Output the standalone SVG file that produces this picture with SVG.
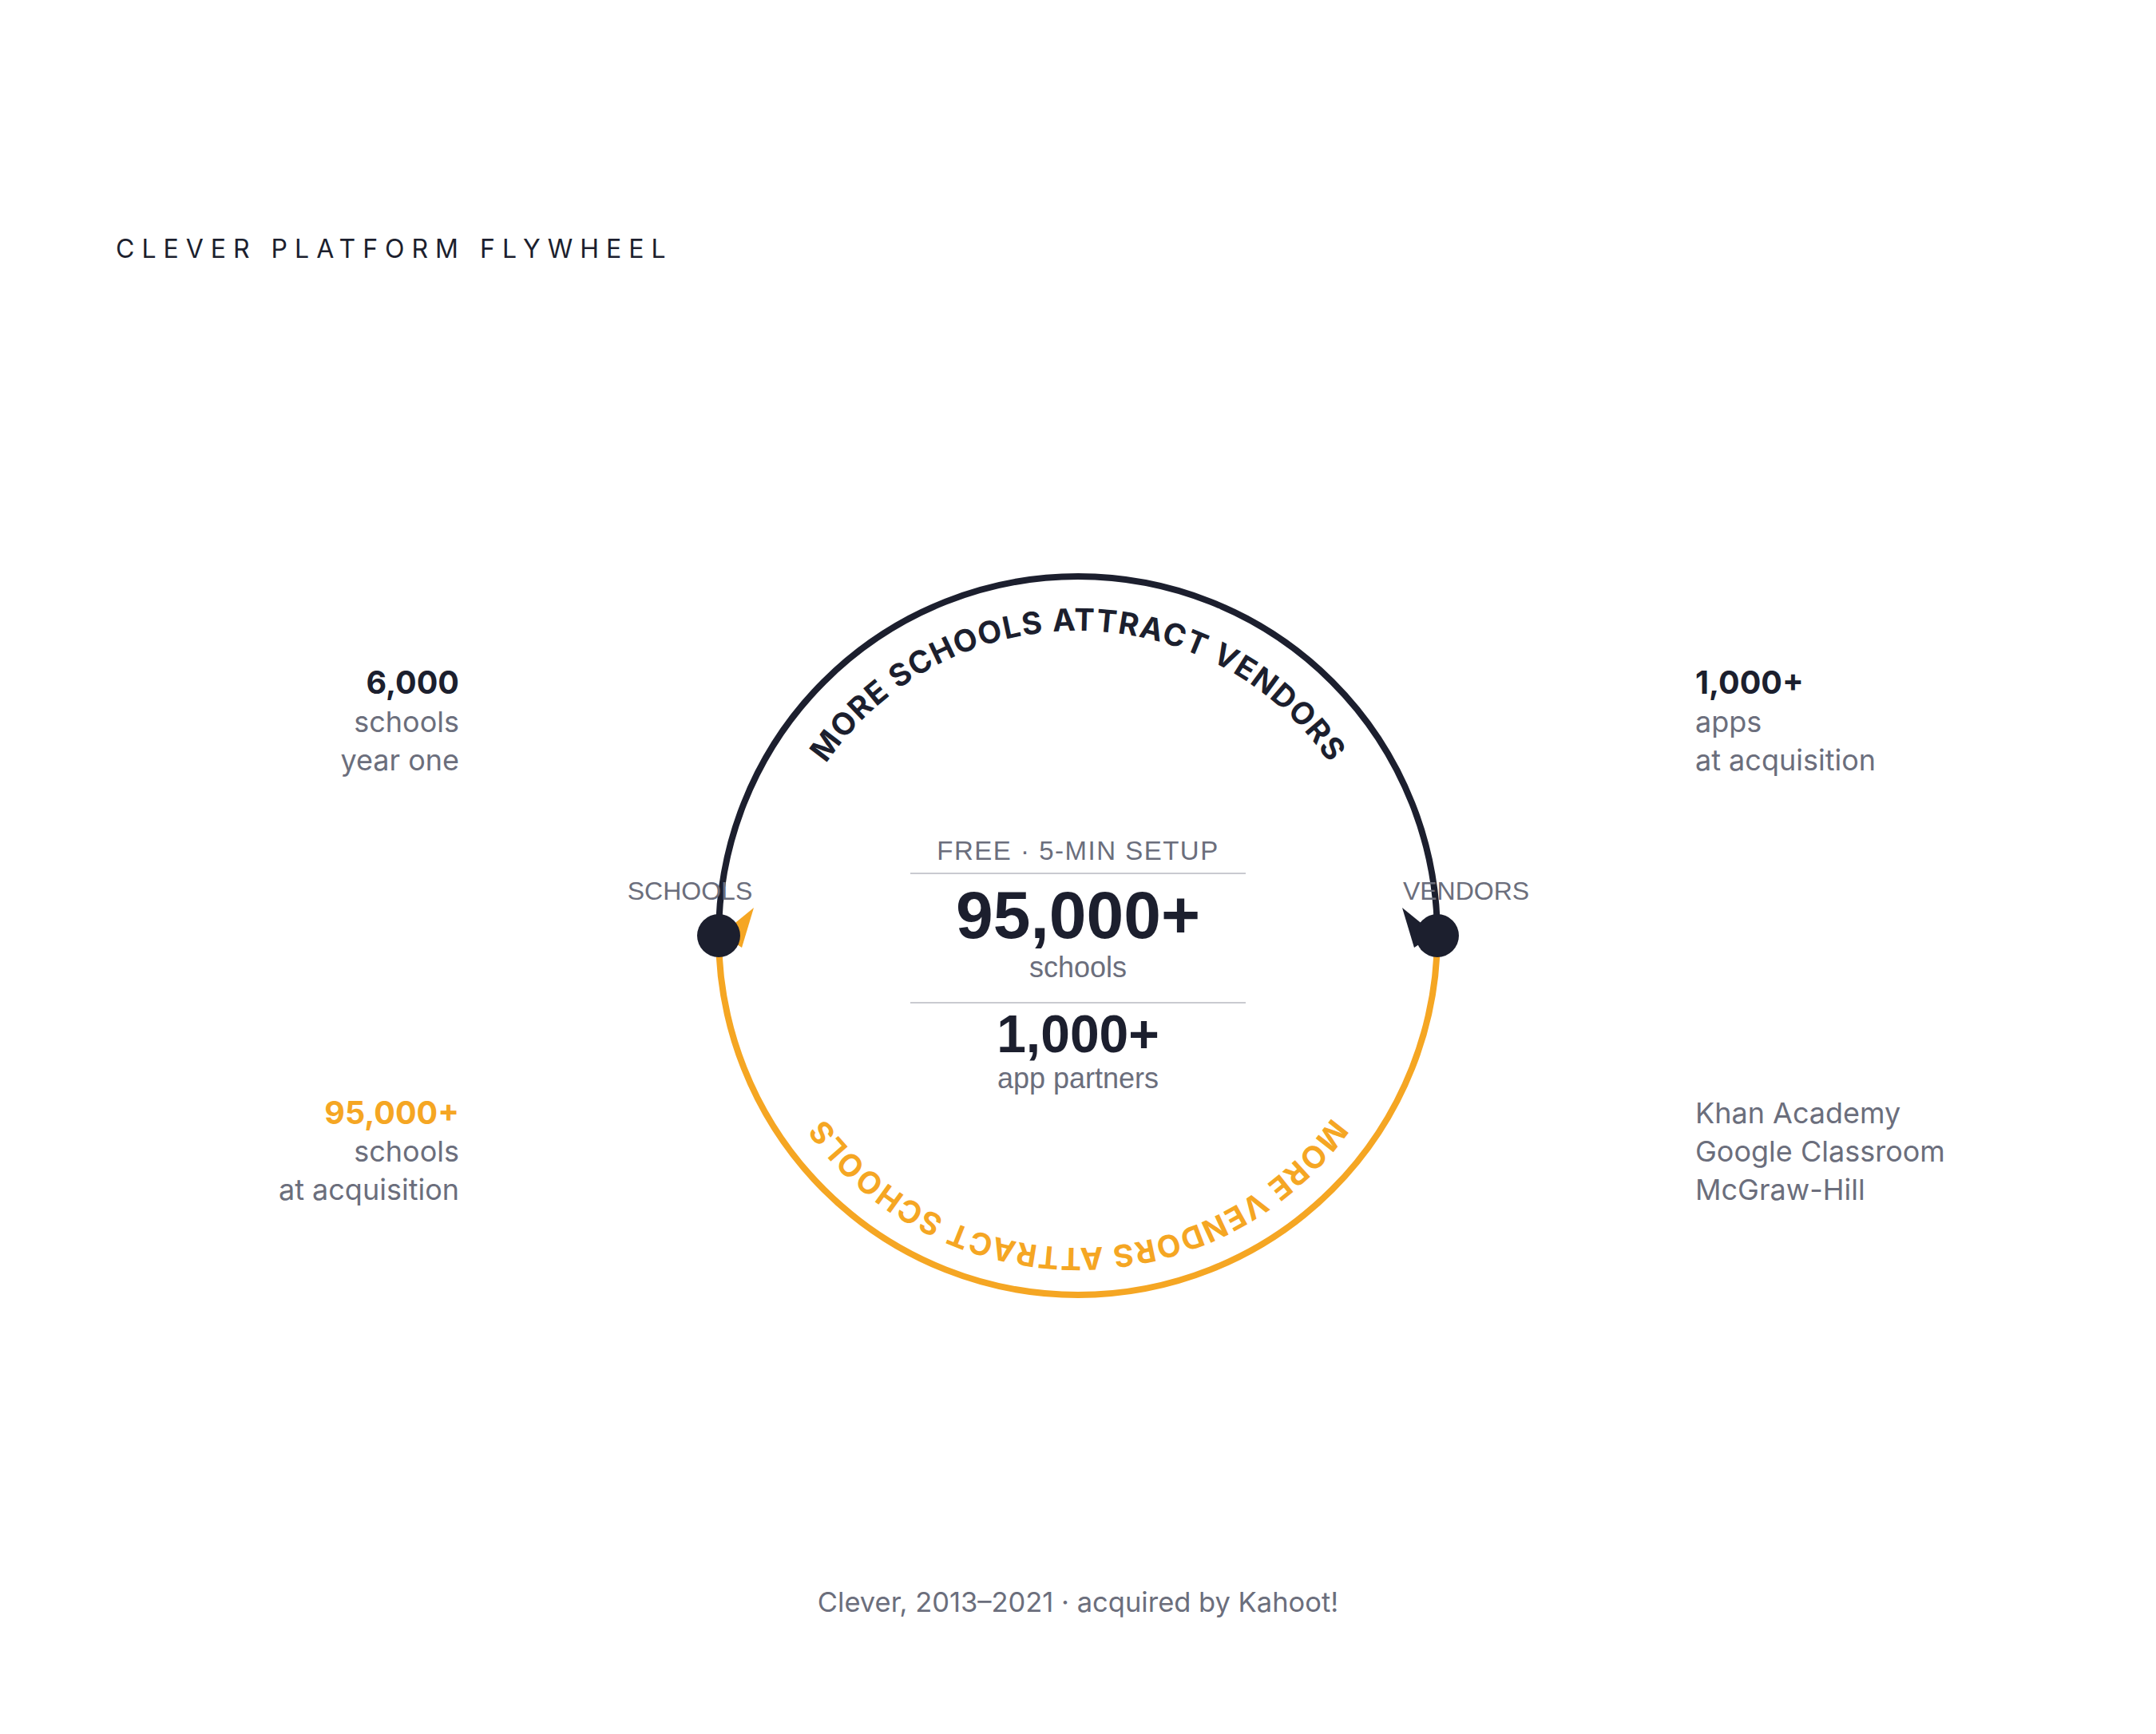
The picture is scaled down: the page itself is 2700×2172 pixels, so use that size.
<svg xmlns="http://www.w3.org/2000/svg" width="2700" height="2172" viewBox="0 0 2700 2172">
  <defs>
    <style>
      .inter { font-family: Inter, "Noto Sans", "Liberation Sans", sans-serif; }
      .arial { font-family: "Liberation Sans", Arial, sans-serif; }
      .dark { fill: #1c1f2e; }
      .gray { fill: #6b6e7c; }
      .orange { fill: #f5a623; }
      .title { font-size: 32px; letter-spacing: 9px; }
      .lbl { font-size: 36px; }
      .num { font-size: 39.5px; font-weight: 700; }
      .node-label { font-size: 32px; }
      .arc-text { font-size: 38.5px; font-weight: 700; letter-spacing: 1.4px; }
      .arc { fill: none; stroke-width: 8; }
      .sep { stroke: #c9cad0; stroke-width: 2; }
    </style>
    <path id="topTextPath" d="M 968 1172 A 382 382 0 0 1 1732 1172"/>
    <path id="bottomTextPath" d="M 1741 1172 A 391 391 0 0 1 959 1172"/>
  </defs>
  <rect width="2700" height="2172" fill="#ffffff"/>

  <text class="inter title dark" x="145" y="323">CLEVER PLATFORM FLYWHEEL</text>

  <g id="connectors">
    <path id="arc-top" class="arc" stroke="#1c1f2e" d="M 900 1172 A 450 450 0 0 1 1800 1172"/>
    <path id="arc-bottom" class="arc" stroke="#f5a623" d="M 1800 1172 A 450 450 0 0 1 900 1172"/>
    <polygon class="orange" points="944,1137 929,1187 903.6,1170"/>
    <polygon class="dark" points="1756,1137 1771,1187 1796.4,1170"/>
    <text class="inter arc-text dark"><textPath href="#topTextPath" startOffset="50%" text-anchor="middle">MORE SCHOOLS ATTRACT VENDORS</textPath></text>
    <text class="inter arc-text orange"><textPath href="#bottomTextPath" startOffset="50%" text-anchor="middle">MORE VENDORS ATTRACT SCHOOLS</textPath></text>
  </g>

  <g id="node-schools">
    <circle class="dark" cx="900" cy="1172" r="27"/>
    <text class="arial node-label gray" x="864" y="1127" text-anchor="middle">SCHOOLS</text>
  </g>

  <g id="node-vendors">
    <circle class="dark" cx="1800" cy="1172" r="27"/>
    <text class="arial node-label gray" x="1836" y="1127" text-anchor="middle">VENDORS</text>
  </g>

  <g id="center-hub">
    <text class="arial gray" x="1350" y="1077" text-anchor="middle" font-size="33" letter-spacing="1.5">FREE · 5-MIN SETUP</text>
    <line class="sep" x1="1140" y1="1094" x2="1560" y2="1094"/>
    <text class="arial dark" x="1350" y="1175" text-anchor="middle" font-size="84" font-weight="700">95,000+</text>
    <text class="arial gray" x="1350" y="1224" text-anchor="middle" font-size="36">schools</text>
    <line class="sep" x1="1140" y1="1256" x2="1560" y2="1256"/>
    <text class="arial dark" x="1350" y="1318" text-anchor="middle" font-size="66" font-weight="700">1,000+</text>
    <text class="arial gray" x="1350" y="1363" text-anchor="middle" font-size="36">app partners</text>
  </g>

  <g id="stat-schools-year-one" class="inter" text-anchor="end">
    <text class="num dark" x="575" y="869">6,000</text>
    <text class="lbl gray" x="575" y="917">schools</text>
    <text class="lbl gray" x="575" y="965">year one</text>
  </g>

  <g id="stat-schools-acquisition" class="inter" text-anchor="end">
    <text class="num orange" x="575" y="1408">95,000+</text>
    <text class="lbl gray" x="575" y="1455">schools</text>
    <text class="lbl gray" x="575" y="1503">at acquisition</text>
  </g>

  <g id="stat-apps" class="inter">
    <text class="num dark" x="2123" y="869">1,000+</text>
    <text class="lbl gray" x="2123" y="917">apps</text>
    <text class="lbl gray" x="2123" y="965">at acquisition</text>
  </g>

  <g id="stat-partners" class="inter">
    <text class="lbl gray" x="2123" y="1407">Khan Academy</text>
    <text class="lbl gray" x="2123" y="1455">Google Classroom</text>
    <text class="lbl gray" x="2123" y="1503">McGraw-Hill</text>
  </g>

  <text class="inter gray" x="1350" y="2019" text-anchor="middle" font-size="34.5">Clever, 2013–2021 · acquired by Kahoot!</text>
</svg>
